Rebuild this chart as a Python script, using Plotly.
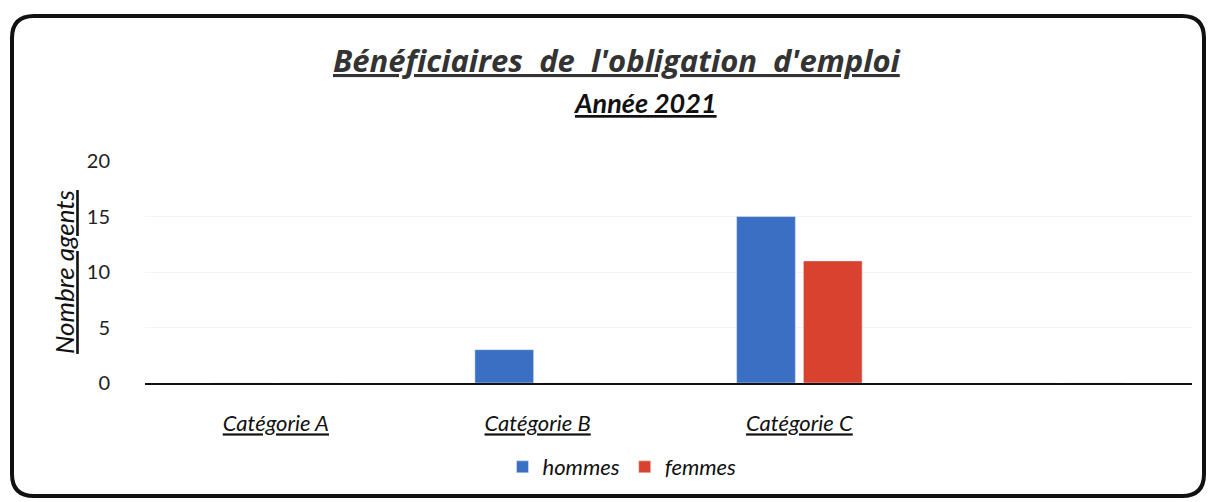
import plotly.graph_objects as go

# data
categories = ["Catégorie A", "Catégorie B", "Catégorie C", " "]
hommes = [0, 3, 15, 0]
femmes = [0, 0, 11, 0]
y_ticks = [0, 5, 10, 15, 20]

W, H = 1210, 502
L, R, T, B = 145, 18, 161, 119
pw, ph = W - L - R, H - T - B


def px(x):
    return (x - L) / pw


def py(y):
    return (H - B - y) / ph


FONT = "Lato, Calibri, sans-serif"
tick_text = ["<i><u>%s</u></i>" % c if c.strip() else "" for c in categories]

fig = go.Figure()
fig.add_trace(go.Bar(name="<i>hommes</i>", x=categories, y=hommes,
                     marker=dict(color="#3A6FC4")))
fig.add_trace(go.Bar(name="<i>femmes</i>", x=categories, y=femmes,
                     marker=dict(color="#D9422F")))

# rounded frame around the chart
x0, x1, y0, y1, r = px(12), px(1204), py(16), py(496), 22
rx, ry = r / pw, r / ph
frame = (f"M {x0+rx},{y0} L {x1-rx},{y0} Q {x1},{y0} {x1},{y0-ry} "
         f"L {x1},{y1+ry} Q {x1},{y1} {x1-rx},{y1} "
         f"L {x0+rx},{y1} Q {x0},{y1} {x0},{y1+ry} "
         f"L {x0},{y0-ry} Q {x0},{y0} {x0+rx},{y0} Z")
fig.add_shape(type="path", path=frame, xref="paper", yref="paper",
              line=dict(color="#111111", width=4))

fig.add_annotation(text="<b><i><u>Bénéficiaires  de  l'obligation  d'emploi</u></i></b>",
                   x=px(617), y=py(60), xref="paper", yref="paper",
                   xanchor="center", yanchor="middle",
                   showarrow=False, font=dict(family="Open Sans", size=31, color="#333333"))
fig.add_annotation(text="<b><i><u>Année 2021</u></i></b>",
                   x=px(645), y=py(102), xref="paper", yref="paper",
                   xanchor="center", yanchor="middle",
                   showarrow=False, font=dict(family=FONT, size=27, color="#111111"))

fig.update_layout(
    width=W, height=H,
    margin=dict(l=L, r=R, t=T, b=B),
    paper_bgcolor="white", plot_bgcolor="white",
    barmode="group", bargap=0.49, bargroupgap=0.12,
    font=dict(family=FONT, size=18, color="#222222"),
    showlegend=True,
    legend=dict(orientation="h", x=px(622), xanchor="center",
                y=py(467), yanchor="middle",
                font=dict(family=FONT, size=22, color="#111111"),
                itemwidth=30),
    xaxis=dict(tickmode="array", tickvals=categories, ticktext=tick_text,
               showline=True, linecolor="#111111", linewidth=2,
               ticks="", ticklabelstandoff=20,
               tickfont=dict(family=FONT, size=22, color="#111111"),
               range=[-0.5, 3.5]),
    yaxis=dict(range=[0, 20], tickvals=y_ticks, showline=False,
               gridcolor="#f3f3f3", zeroline=False,
               ticklabelstandoff=34,
               tickfont=dict(family=FONT, size=20, color="#222222"),
               title=dict(text="<i><u>Nombre agents</u></i>", standoff=4,
                          font=dict(family=FONT, size=26, color="#111111"))),
)

fig.write_html("out.html", config={"displayModeBar": False},
               post_script="document.body.style.margin='0';")
